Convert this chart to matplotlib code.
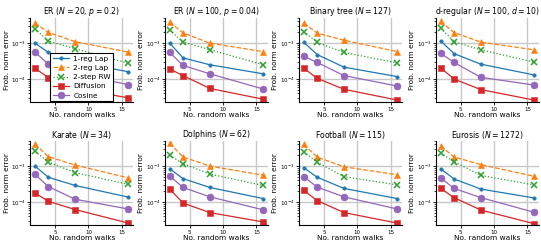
import numpy as np
import matplotlib
matplotlib.use("Agg")
import matplotlib.pyplot as plt

walks = [2, 4, 8, 16]

titles = [
    r"ER ($N=20$, $p=0.2$)",
    r"ER ($N=100$, $p=0.04$)",
    r"Binary tree ($N=127$)",
    r"d-regular ($N=100$, $d=10$)",
    r"Karate ($N=34$)",
    r"Dolphins ($N=62$)",
    r"Football ($N=115$)",
    r"Eurosis ($N=1272$)",
]

# one list per graph, values for 2, 4, 8, 16 walks
reg1_lap = [
    [1.0e-3, 5.5e-4, 3.0e-4, 1.6e-4],
    [1.0e-3, 3.9e-4, 2.5e-4, 1.4e-4],
    [1.05e-3, 4.8e-4, 2.15e-4, 1.17e-4],
    [1.15e-3, 5.1e-4, 2.6e-4, 1.3e-4],
    [1.0e-3, 4.9e-4, 2.9e-4, 1.37e-4],
    [8.4e-4, 4.5e-4, 2.55e-4, 1.25e-4],
    [9.0e-4, 4.9e-4, 2.4e-4, 1.25e-4],
    [8.4e-4, 4.4e-4, 2.3e-4, 1.3e-4],
]
reg2_lap = [
    [3.6e-3, 2.0e-3, 1.1e-3, 5.6e-4],
    [3.8e-3, 1.93e-3, 1.0e-3, 5.8e-4],
    [3.6e-3, 1.9e-3, 1.2e-3, 5.8e-4],
    [4.0e-3, 1.97e-3, 1.07e-3, 6.5e-4],
    [4.1e-3, 1.84e-3, 1.07e-3, 4.7e-4],
    [4.3e-3, 1.8e-3, 1.0e-3, 5.6e-4],
    [4.0e-3, 1.78e-3, 9.6e-4, 5.75e-4],
    [3.6e-3, 1.8e-3, 1.1e-3, 5.2e-4],
]
step2_rw = [
    [2.5e-3, 1.14e-3, 7.0e-4, 2.75e-4],
    [2.3e-3, 1.07e-3, 6.6e-4, 2.5e-4],
    [2.1e-3, 1.05e-3, 5.5e-4, 2.8e-4],
    [2.6e-3, 1.1e-3, 6.5e-4, 2.95e-4],
    [2.6e-3, 1.3e-3, 6.6e-4, 3.1e-4],
    [2.0e-3, 1.17e-3, 6.0e-4, 2.9e-4],
    [2.5e-3, 1.28e-3, 5.1e-4, 3.0e-4],
    [2.3e-3, 1.33e-3, 5.5e-4, 3.0e-4],
]
diffusion = [
    [2.0e-4, 1.1e-4, 5.5e-5, 3.0e-5],
    [1.9e-4, 1.25e-4, 5.5e-5, 2.75e-5],
    [2.0e-4, 1.05e-4, 5.2e-5, 2.6e-5],
    [2.05e-4, 1.0e-4, 5.1e-5, 2.6e-5],
    [1.8e-4, 1.05e-4, 6.2e-5, 2.6e-5],
    [2.3e-4, 9.4e-5, 5.1e-5, 2.8e-5],
    [2.1e-4, 1.1e-4, 5.1e-5, 2.6e-5],
    [2.4e-4, 1.33e-4, 6.0e-5, 2.5e-5],
]
cosine = [
    [5.6e-4, 2.6e-4, 1.4e-4, 7.0e-5],
    [5.5e-4, 2.4e-4, 1.4e-4, 5.3e-5],
    [4.3e-4, 2.9e-4, 1.25e-4, 6.4e-5],
    [5.2e-4, 2.9e-4, 1.12e-4, 6.8e-5],
    [5.9e-4, 2.7e-4, 1.2e-4, 6.4e-5],
    [5.35e-4, 2.55e-4, 1.4e-4, 6.1e-5],
    [5.1e-4, 2.6e-4, 1.4e-4, 6.4e-5],
    [4.7e-4, 2.4e-4, 1.33e-4, 5.2e-5],
]

series = [
    ("1-reg Lap", reg1_lap, "tab:blue", "o", "-", 2.5),
    ("2-reg Lap", reg2_lap, "tab:orange", "^", "--", 5),
    ("2-step RW", step2_rw, "tab:green", "x", ":", 4),
    ("Diffusion", diffusion, "tab:red", "s", "-", 4.5),
    ("Cosine", cosine, "tab:purple", "o", "-", 5),
]

plt.rcParams["font.family"] = "DejaVu Sans"
plt.rcParams["mathtext.fontset"] = "dejavusans"

fig = plt.figure(figsize=(5.41, 2.5), dpi=100)
lefts = [0.056, 0.305, 0.553, 0.806]
bottoms = [0.592, 0.10]
w, h = 0.19, 0.336

for i, title in enumerate(titles):
    ax = fig.add_axes([lefts[i % 4], bottoms[i // 4], w, h])
    for name, vals, col, mk, ls, ms in series:
        ax.plot(walks, vals[i], color=col, marker=mk, linestyle=ls, markersize=ms,
                linewidth=0.9, markeredgewidth=1.1 if mk == "x" else 0.4, label=name)
    ax.set_yscale("log")
    ax.set_ylim(2.3e-5, 5e-3)
    ax.set_xticks([5, 10, 15])
    ax.grid(True, color="#c8c8c8", linewidth=1)
    ax.set_axisbelow(True)
    ax.set_title(title, fontsize=5.6, pad=2)
    ax.set_xlabel("No. random walks", fontsize=5.3, labelpad=0)
    ax.set_ylabel("Frob. norm error", fontsize=5.3, labelpad=1)
    ax.tick_params(axis="both", which="major", labelsize=4, length=2.5, width=0.6, pad=1)
    ax.tick_params(axis="y", which="minor", length=1.5, width=0.5)
    for s in ["top", "right"]:
        ax.spines[s].set_visible(False)
    for s in ["left", "bottom"]:
        ax.spines[s].set_linewidth(0.8)
    if i == 0:
        leg = ax.legend(loc="lower center", fontsize=5.3, frameon=True, fancybox=False,
                        borderpad=0.35, labelspacing=0.42, handlelength=2.2,
                        handletextpad=0.6, borderaxespad=0.1)
        leg.get_frame().set_edgecolor("black")
        leg.get_frame().set_linewidth(0.8)
        leg.get_frame().set_alpha(1)

fig.savefig("out.png", dpi=100)
